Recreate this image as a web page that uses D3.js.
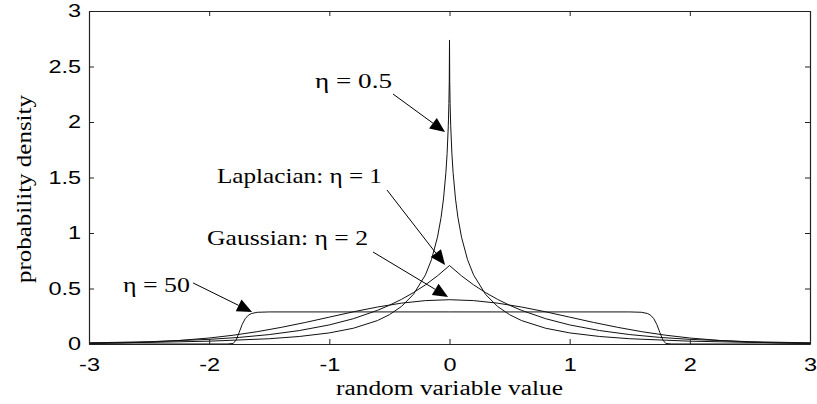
<!DOCTYPE html>
<html>
<head>
<meta charset="utf-8">
<script src="https://cdn.jsdelivr.net/npm/d3@7"></script>
<style>
  body { margin: 0; background: #fff; }
  svg { display: block; }
</style>
</head>
<body>
<div id="chart"></div>
<script>
// Generalised Gaussian densities (unit variance)
const etaHalfX = [-3, -2.5, -2, -1.5, -1.25, -1, -0.8, -0.6, -0.5, -0.4, -0.3, -0.2, -0.15, -0.1, -0.07, -0.05, -0.03, -0.02, -0.01, -0.005, -0.002,
    0, 0.002, 0.005, 0.01, 0.02, 0.03, 0.05, 0.07, 0.1, 0.15, 0.2, 0.3, 0.4, 0.5, 0.6, 0.8, 1, 1.25, 1.5, 2, 2.5, 3];
const etaHalfY = [0.0089, 0.0146, 0.0254, 0.0475, 0.0677, 0.100, 0.142, 0.211, 0.264, 0.338, 0.447, 0.623, 0.760, 0.962, 1.141, 1.307, 1.544, 1.715, 1.967, 2.167, 2.362,
    2.739, 2.362, 2.167, 1.967, 1.715, 1.544, 1.307, 1.141, 0.962, 0.760, 0.623, 0.447, 0.338, 0.264, 0.211, 0.142, 0.100, 0.0677, 0.0475, 0.0254, 0.0146, 0.0089];

const laplaceX = [-3, -2.5, -2, -1.75, -1.5, -1.25, -1, -0.8, -0.6, -0.5, -0.4, -0.3, -0.2, -0.1,
    0, 0.1, 0.2, 0.3, 0.4, 0.5, 0.6, 0.8, 1, 1.25, 1.5, 1.75, 2, 2.5, 3];
const laplaceY = [0.0102, 0.0206, 0.0418, 0.0595, 0.0848, 0.121, 0.172, 0.228, 0.303, 0.349, 0.402, 0.463, 0.533, 0.614,
    0.707, 0.614, 0.533, 0.463, 0.402, 0.349, 0.303, 0.228, 0.172, 0.121, 0.0848, 0.0595, 0.0418, 0.0206, 0.0102];

const gaussX = [-3, -2.75, -2.5, -2.25, -2, -1.8, -1.6, -1.4, -1.2, -1, -0.8, -0.6, -0.4, -0.2,
    0, 0.2, 0.4, 0.6, 0.8, 1, 1.2, 1.4, 1.6, 1.8, 2, 2.25, 2.5, 2.75, 3];
const gaussY = [0.0044, 0.0091, 0.0175, 0.0317, 0.054, 0.079, 0.111, 0.150, 0.194, 0.242, 0.290, 0.333, 0.368, 0.391,
    0.399, 0.391, 0.368, 0.333, 0.290, 0.242, 0.194, 0.150, 0.111, 0.079, 0.054, 0.0317, 0.0175, 0.0091, 0.0044];

const eta50X = [-3, -2.5, -2, -1.85, -1.8, -1.775, -1.75, -1.725, -1.7, -1.675, -1.65, -1.6, -1.5,
    0, 1.5, 1.6, 1.65, 1.675, 1.7, 1.725, 1.75, 1.775, 1.8, 1.85, 2, 2.5, 3];
const eta50Y = [0, 0, 0, 0, 0.0047, 0.0372, 0.1054, 0.1768, 0.2281, 0.2582, 0.2740, 0.2857, 0.2889,
    0.2890, 0.2889, 0.2857, 0.2740, 0.2582, 0.2281, 0.1768, 0.1054, 0.0372, 0.0047, 0, 0, 0, 0];

const xTicks = [-3, -2, -1, 0, 1, 2, 3];
const yTicks = [0, 0.5, 1, 1.5, 2, 2.5, 3];

// annotation labels: text, text anchor point, arrow start, arrow tip (data units)
const labelText = ["\u03b7 = 0.5", "Laplacian: \u03b7 = 1", "Gaussian: \u03b7 = 2", "\u03b7 = 50"];
const labelAt = [[-1.119, 2.306], [-1.935, 1.450], [-2.018, 0.892], [-2.717, 0.468]];
const arrowFrom = [[-0.470, 2.252], [-0.520, 1.387], [-0.637, 0.829], [-2.134, 0.550]];
const arrowTo = [[-0.037, 1.910], [-0.037, 0.712], [-0.012, 0.423], [-1.643, 0.288]];
const labelWidth = [77, 165, 161, 67];

// layout
const W = 817, H = 404;
const margin = { top: 11, right: 7, bottom: 60, left: 89 };
const width = W - margin.left - margin.right;
const height = H - margin.top - margin.bottom;

const svg = d3.select("#chart")
    .append("svg")
    .attr("width", W)
    .attr("height", H);

const g = svg.append("g")
    .attr("transform", `translate(${margin.left},${margin.top})`);

const x = d3.scaleLinear().domain([-3, 3]).range([0, width]);
const y = d3.scaleLinear().domain([0, 3]).range([height, 0]);

const tickFont = "'Liberation Sans', Arial, sans-serif";
const serif = "'Liberation Serif', 'Times New Roman', serif";
const stretch = 1.27;

// curves
const line = d3.line().x(d => x(d[0])).y(d => y(d[1]));
const series = [
    d3.zip(eta50X, eta50Y),
    d3.zip(gaussX, gaussY),
    d3.zip(laplaceX, laplaceY),
    d3.zip(etaHalfX, etaHalfY)
];
g.selectAll(".curve")
    .data(series)
    .enter()
    .append("path")
    .attr("class", "curve")
    .attr("d", line)
    .attr("fill", "none")
    .attr("stroke", "#111")
    .attr("stroke-width", 1);

// axes (ticks point inward, mirrored on top/right)
function styleAxis(sel) {
    sel.select(".domain").attr("stroke", "#222").attr("stroke-width", 1.2);
    sel.selectAll(".tick line").attr("stroke", "#222");
}

const xAxisBottom = g.append("g")
    .attr("transform", `translate(0,${height})`)
    .call(d3.axisBottom(x).tickValues(xTicks).tickSize(-5).tickSizeOuter(0).tickPadding(14).tickFormat(d => String(d)));
xAxisBottom.call(styleAxis);
xAxisBottom.selectAll("text")
    .attr("font-family", tickFont)
    .attr("font-size", 18.5)
    .attr("fill", "#000")
    .attr("transform", `scale(${stretch},1)`);

const yAxisLeft = g.append("g")
    .call(d3.axisLeft(y).tickValues(yTicks).tickSize(-5).tickSizeOuter(0).tickPadding(8 / stretch).tickFormat(d => String(d)));
yAxisLeft.call(styleAxis);
yAxisLeft.selectAll("text")
    .attr("font-family", tickFont)
    .attr("font-size", 18.5)
    .attr("fill", "#000")
    .attr("transform", `scale(${stretch},1)`);

const xAxisTop = g.append("g")
    .call(d3.axisTop(x).tickValues(xTicks).tickSize(-5).tickSizeOuter(0).tickFormat(""));
xAxisTop.call(styleAxis);

const yAxisRight = g.append("g")
    .attr("transform", `translate(${width},0)`)
    .call(d3.axisRight(y).tickValues(yTicks).tickSize(-5).tickSizeOuter(0).tickFormat(""));
yAxisRight.call(styleAxis);

// axis titles
svg.append("text")
    .attr("x", margin.left + width / 2)
    .attr("y", 395)
    .attr("text-anchor", "middle")
    .attr("font-family", serif)
    .attr("font-size", 20)
    .attr("textLength", 227)
    .attr("lengthAdjust", "spacingAndGlyphs")
    .text("random variable value");

svg.append("text")
    .attr("transform", "translate(31,189) rotate(-90)")
    .attr("text-anchor", "middle")
    .attr("font-family", serif)
    .attr("font-size", 21)
    .attr("textLength", 188)
    .attr("lengthAdjust", "spacingAndGlyphs")
    .text("probability density");

// annotations with arrows
const headLen = 15, headHalf = 6.5;
labelText.forEach((t, i) => {
    g.append("text")
        .attr("x", x(labelAt[i][0]))
        .attr("y", y(labelAt[i][1]))
        .attr("font-family", serif)
        .attr("font-size", 21)
        .attr("textLength", labelWidth[i])
        .attr("lengthAdjust", "spacingAndGlyphs")
        .text(t);

    const x0 = x(arrowFrom[i][0]), y0 = y(arrowFrom[i][1]);
    const x1 = x(arrowTo[i][0]), y1 = y(arrowTo[i][1]);
    const len = Math.hypot(x1 - x0, y1 - y0);
    const ux = (x1 - x0) / len, uy = (y1 - y0) / len;
    const bx = x1 - ux * headLen, by = y1 - uy * headLen;

    g.append("line")
        .attr("x1", x0).attr("y1", y0)
        .attr("x2", bx).attr("y2", by)
        .attr("stroke", "#000")
        .attr("stroke-width", 1);

    g.append("path")
        .attr("d", `M${x1},${y1}L${bx - uy * headHalf},${by + ux * headHalf}L${bx + uy * headHalf},${by - ux * headHalf}Z`)
        .attr("fill", "#000");
});
</script>
</body>
</html>
